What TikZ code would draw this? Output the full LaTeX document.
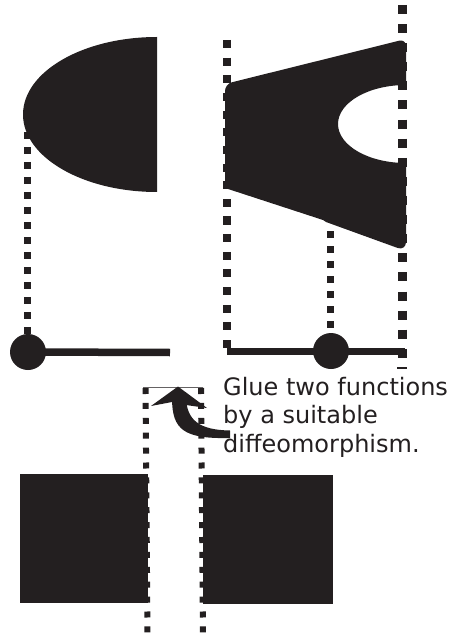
\documentclass[tikz,border=0pt]{standalone}
\usepackage{fontspec}
\setmainfont{DejaVu Sans}
\definecolor{ink}{HTML}{231F20}
\tikzset{
  dotA/.style={ink, line width=7pt, dash pattern=on 7pt off 8pt},
  dotB/.style={ink, line width=8.5pt, dash pattern=on 8pt off 9.65pt},
  dotC/.style={ink, line width=9pt, dash pattern=on 9pt off 10.1pt},
  dotD/.style={ink, line width=6pt, dash pattern=on 6pt off 8.9pt},
  axis/.style={ink, line width=7.5pt},
  blob/.style={fill=ink, draw=none},
  lbl/.style={anchor=base west, inner sep=0pt, font=\fontsize{24}{28.5}\selectfont, text=ink}
}
\begin{document}
\begin{tikzpicture}[x=1pt, y=-1pt]
\useasboundingbox (0,0) rectangle (450,636);
% coordinates
\coordinate (lt) at (27.7,132);
\coordinate (lb) at (27.7,352);
\coordinate (bt) at (227,40);
\coordinate (bb) at (227,349);
\coordinate (ct) at (402.5,5);
\coordinate (cb) at (402.5,358);
\coordinate (mt) at (330.3,231);
\coordinate (mb) at (330.3,345);
\coordinate (dlt) at (145.5,388);
\coordinate (dlb) at (147.5,634);
\coordinate (drt) at (201,388);
\coordinate (drb) at (203,634);
% dotted guide lines
\draw[dotA] (lt) -- (lb);
\draw[dotB] (bt) -- (bb);
\draw[dotC] (ct) -- (cb);
\draw[dotA] (mt) -- (mb);
% left half-ellipse
\fill[blob] (157,37) arc[start angle=90, end angle=270, x radius=134pt, y radius=77.5pt] -- cycle;
% right trapezoid with notch
\fill[blob] (225,188) [rounded corners=7pt] -- (225,84) -- (406,39) -- (406,60) [sharp corners] -- (406,85)
  arc[start angle=90, end angle=270, x radius=68pt, y radius=39pt]
  -- (406,200) [rounded corners=9pt] -- (406,251) [sharp corners] -- (326,222) -- (323,220) -- cycle;
% axes
\node[circle, fill=ink, minimum size=36pt, inner sep=0pt] (p1) at (28,352) {};
\coordinate (e1) at (170,352.5);
\draw[axis] (p1.center) -- (e1);
\coordinate (s2) at (227,351.5);
\coordinate (e2) at (405,351.5);
\draw[axis] (s2) -- (e2);
\node[circle, fill=ink, minimum size=36pt, inner sep=0pt] (p2) at (331,351) {};
\coordinate (k1) at (397,368);
\coordinate (k2) at (407,368);
\draw[ink, line width=1.2pt] (k1) -- (k2);
% text
\node[lbl] (t1) at (223,395) {Glue two functions};
\node[lbl] (t2) at (223,423.5) {by a suitable};
\node[lbl] (t3) at (223,452) {diffeomorphism.};
% bottom dotted lines
\draw[dotD] (dlt) -- (dlb);
\draw[dotD] (drt) -- (drb);
% thin line at top
\coordinate (h1) at (143,387);
\coordinate (h2) at (203,387);
\draw[ink!70, line width=0.6pt] (h1) -- (h2);
% curved arrow
\fill[blob] (172,398) .. controls (172,430) and (184,439) .. (230,438) -- (230,430.5)
  .. controls (199,430) and (187,420) .. (186,398) -- cycle;
\fill[blob] (178,386.5) -- (207,408) -- (186,405) -- (172,402) -- (151,406) -- cycle;
% bottom squares
\fill[blob] (20,474) rectangle (148,603);
\fill[blob] (203,475) rectangle (333,604);
\end{tikzpicture}
\end{document}
